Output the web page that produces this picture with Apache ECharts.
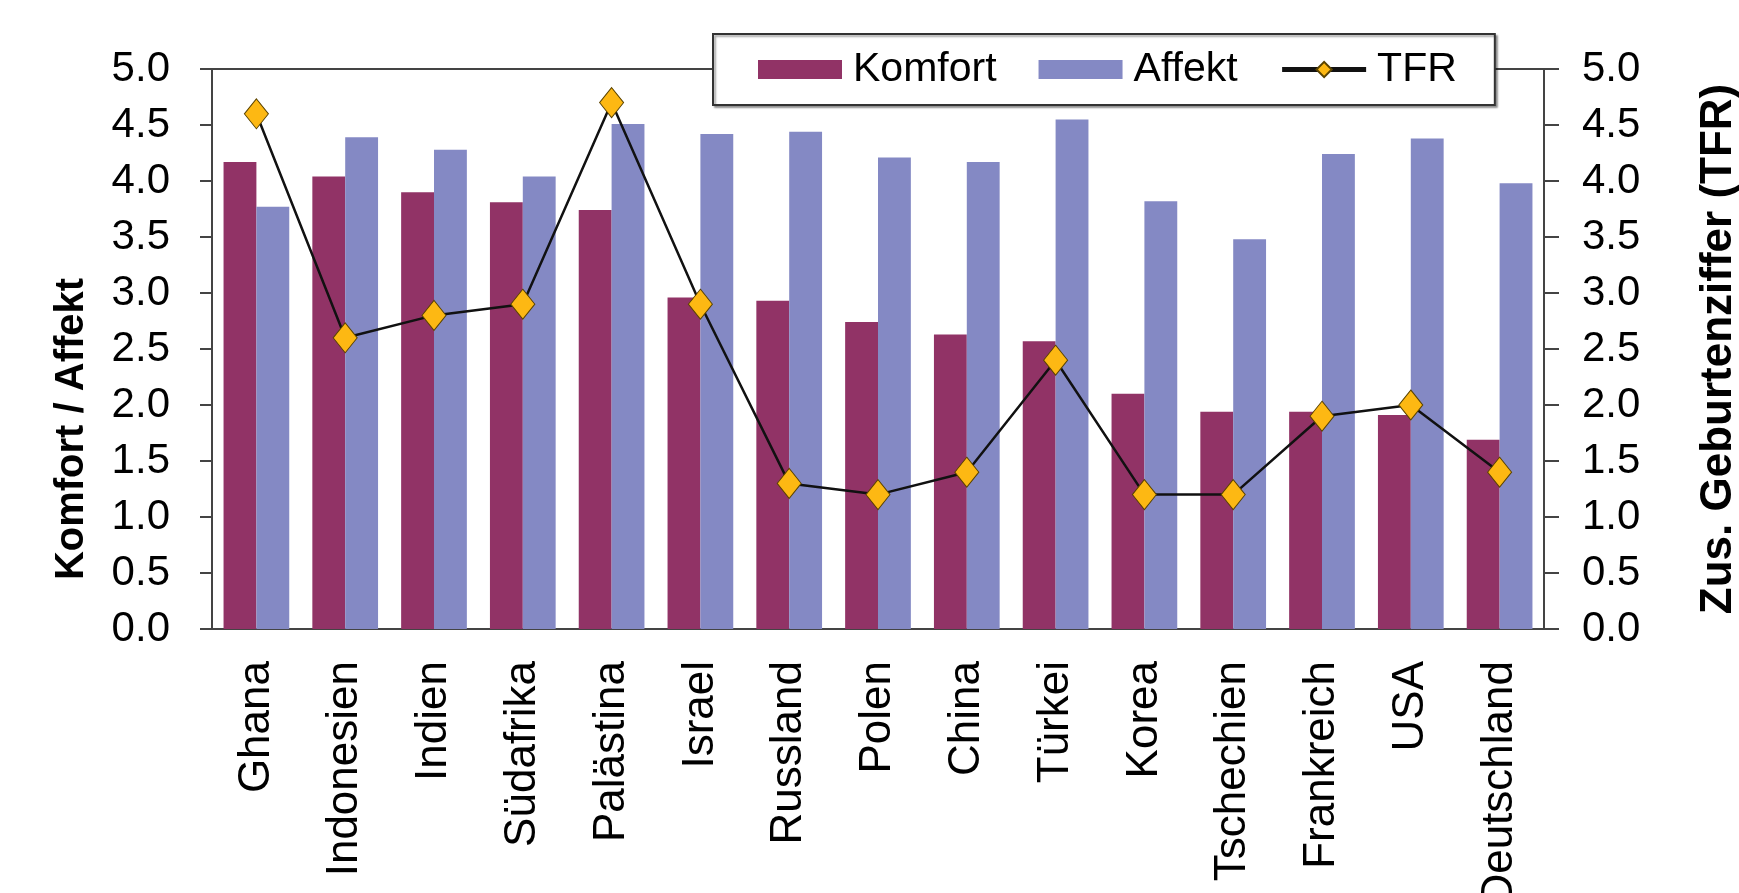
<!DOCTYPE html>
<html lang="de">
<head>
<meta charset="utf-8">
<title>Komfort, Affekt und TFR</title>
<script src="https://cdn.jsdelivr.net/npm/echarts@6/dist/echarts.min.js"></script>
<style>
  html, body { margin: 0; padding: 0; background: #fff; }
  #chart { width: 1739px; height: 893px; }
</style>
</head>
<body>
<div id="chart"></div>
<script>
// Länder (von links nach rechts)
const countries = ['Ghana', 'Indonesien', 'Indien', 'Südafrika', 'Palästina', 'Israel', 'Russland',
  'Polen', 'China', 'Türkei', 'Korea', 'Tschechien', 'Frankreich', 'USA', 'Deutschland'];

// Mittelwerte Komfort und Affekt (linke Achse)
const komfort = [4.17, 4.04, 3.90, 3.81, 3.74, 2.96, 2.93, 2.74, 2.63, 2.57, 2.10, 1.94, 1.94, 1.91, 1.69];
const affekt  = [3.77, 4.39, 4.28, 4.04, 4.51, 4.42, 4.44, 4.21, 4.17, 4.55, 3.82, 3.48, 4.24, 4.38, 3.98];

// Zusammengefasste Geburtenziffer (rechte Achse)
const tfr = [4.6, 2.6, 2.8, 2.9, 4.7, 2.9, 1.3, 1.2, 1.4, 2.4, 1.2, 1.2, 1.9, 2.0, 1.4];

// Achsenbereich
const axisMin = 0, axisMax = 5, axisStep = 0.5;

const FONT = "'Liberation Sans', Arial, sans-serif";
const AXIS_COLOR = '#444';

const valueAxis = (position, name, labelMargin, tickLen, nameGap, nameSize, namePadding) => ({
  type: 'value',
  position,
  min: axisMin,
  max: axisMax,
  interval: axisStep,
  name,
  nameLocation: 'middle',
  nameGap,
  nameTextStyle: {
    fontFamily: FONT, fontSize: nameSize, fontWeight: 'bold', color: '#000',
    padding: namePadding
  },
  axisLine: { show: true, lineStyle: { color: AXIS_COLOR, width: 2 } },
  axisTick: { show: true, inside: false, length: tickLen, lineStyle: { color: AXIS_COLOR, width: 2 } },
  axisLabel: {
    fontFamily: FONT, fontSize: 42, color: '#000', margin: labelMargin,
    formatter: v => v.toFixed(1)
  },
  splitLine: { show: false }
});

const chart = echarts.init(document.getElementById('chart'), null, { renderer: 'canvas' });

chart.setOption({
  backgroundColor: '#fff',
  animation: false,
  grid: {
    left: 212, right: 195, top: 69, bottom: 264,
    containLabel: false,
    outerBoundsMode: 'none',
    show: true, borderColor: AXIS_COLOR, borderWidth: 2, backgroundColor: 'transparent'
  },
  legend: {
    left: 713, top: 34,
    orient: 'horizontal',
    padding: [15, 38, 15, 45],
    itemGap: 42,
    itemWidth: 84,
    itemHeight: 19,
    backgroundColor: '#fff',
    borderColor: '#333',
    borderWidth: 2,
    shadowColor: 'rgba(0,0,0,0.35)',
    shadowBlur: 2,
    shadowOffsetX: 2,
    shadowOffsetY: 2,
    textStyle: { fontFamily: FONT, fontSize: 41, color: '#000', padding: [0, 0, 0, 6] },
    data: [
      { name: 'Komfort', icon: 'rect' },
      { name: 'Affekt', icon: 'rect' },
      { name: 'TFR', lineStyle: { width: 5, color: '#111' } }
    ],
    z: 10
  },
  xAxis: {
    type: 'category',
    data: countries,
    axisLine: { show: true, lineStyle: { color: AXIS_COLOR, width: 2 } },
    axisTick: { show: false },
    axisLabel: {
      interval: 0, rotate: 90, margin: 32,
      fontFamily: FONT, fontSize: 44, color: '#000'
    }
  },
  yAxis: [
    valueAxis('left', 'Komfort / Affekt', 42, 12, 120, 40, [0, 160, 0, 0]),
    valueAxis('right', 'Zus. Geburtenziffer (TFR)', 38, 15, 153, 44, [0, 0, 0, 0])
  ],
  series: [
    {
      name: 'Komfort', type: 'bar', yAxisIndex: 0,
      data: komfort,
      barGap: '0%', barCategoryGap: '26%',
      itemStyle: { color: '#913366' }
    },
    {
      name: 'Affekt', type: 'bar', yAxisIndex: 0,
      data: affekt,
      barGap: '0%', barCategoryGap: '26%',
      itemStyle: { color: '#8489C4' }
    },
    {
      name: 'TFR', type: 'line', yAxisIndex: 1,
      data: tfr,
      symbol: 'diamond',
      symbolSize: [24, 30],
      lineStyle: { color: '#111', width: 2.5 },
      itemStyle: { color: '#FDB813', borderColor: '#5a4300', borderWidth: 1 },
      z: 5
    }
  ]
});
</script>
</body>
</html>
